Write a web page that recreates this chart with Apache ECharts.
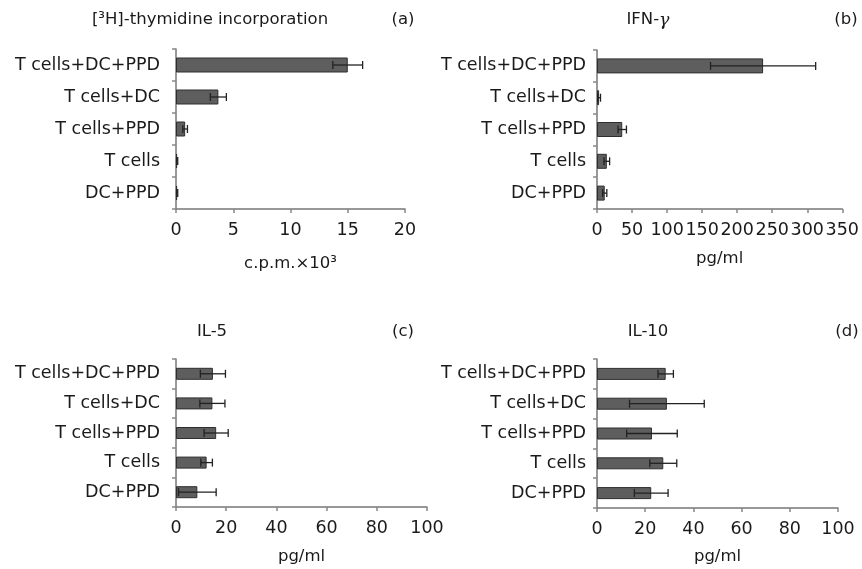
<!DOCTYPE html>
<html>
<head>
<meta charset="utf-8">
<script src="https://cdn.jsdelivr.net/npm/echarts@6/dist/echarts.min.js"></script>
<style>html,body{margin:0;padding:0;background:#fff}#c{width:862px;height:569px}</style>
</head>
<body>
<div id="c"></div>
<script>
var categories = ['T cells+DC+PPD', 'T cells+DC', 'T cells+PPD', 'T cells', 'DC+PPD'];

var thymidineValues = [15.0, 3.7, 0.8, 0.1, 0.1];
var thymidineErrors = [1.3, 0.7, 0.2, 0.05, 0.05];
var thymidineTicks = [0, 5, 10, 15, 20];

var ifnValues = [237, 3, 36, 14, 11];
var ifnErrors = [75, 2, 6, 4, 3];
var ifnTicks = [0, 50, 100, 150, 200, 250, 300, 350];

var il5Values = [14.7, 14.5, 16, 12.2, 8.5];
var il5Errors = [5, 5, 4.8, 2.3, 7.5];
var il5Ticks = [0, 20, 40, 60, 80, 100];

var il10Values = [28.5, 29, 22.8, 27.5, 22.5];
var il10Errors = [3.2, 15.5, 10.5, 5.6, 7];
var il10Ticks = [0, 20, 40, 60, 80, 100];

var FONT = 'DejaVu Sans';
var TXT = '#1a1a1a';

var panels = [
  {vals: thymidineValues, errs: thymidineErrors, ticks: thymidineTicks, interval: 5, name: 'c.p.m.\u00d710\u00b3',
   grid: {left: 176, top: 49, width: 229, height: 160}, barW: 15, catMargin: 16, nameGap: 46},
  {vals: ifnValues, errs: ifnErrors, ticks: ifnTicks, interval: 50, name: 'pg/ml',
   grid: {left: 597, top: 50, width: 247, height: 159}, barW: 15, catMargin: 11, nameGap: 41},
  {vals: il5Values, errs: il5Errors, ticks: il5Ticks, interval: 20, name: 'pg/ml',
   grid: {left: 176, top: 359, width: 251, height: 148}, barW: 12, catMargin: 16, nameGap: 41},
  {vals: il10Values, errs: il10Errors, ticks: il10Ticks, interval: 20, name: 'pg/ml',
   grid: {left: 597, top: 359, width: 241, height: 149}, barW: 12, catMargin: 11, nameGap: 40}
];

var grids = [], xAxes = [], yAxes = [], series = [];
panels.forEach(function (p, i) {
  grids.push(p.grid);
  xAxes.push({
    type: 'value', gridIndex: i,
    min: p.ticks[0], max: p.ticks[p.ticks.length - 1], interval: p.interval,
    name: p.name, nameLocation: 'middle', nameGap: p.nameGap,
    nameTextStyle: {fontFamily: FONT, fontSize: 16.5, color: TXT},
    axisLine: {show: true, lineStyle: {color: '#777', width: 1.5}},
    axisTick: {show: true, length: 4, inside: false, lineStyle: {color: '#888', width: 1.5}},
    axisLabel: {fontFamily: FONT, fontSize: 17.5, color: TXT, margin: 12},
    splitLine: {show: false}
  });
  yAxes.push({
    type: 'category', gridIndex: i, data: categories, inverse: true,
    axisLine: {show: true, lineStyle: {color: '#777', width: 1.5}},
    axisTick: {show: true, length: 4, lineStyle: {color: '#888', width: 1.5}},
    axisLabel: {fontFamily: FONT, fontSize: 17.5, color: TXT, margin: p.catMargin},
    splitLine: {show: false}
  });
  series.push({
    type: 'bar', xAxisIndex: i, yAxisIndex: i, data: p.vals, barWidth: p.barW,
    itemStyle: {color: '#5e5e5e', borderColor: '#2e2e2e', borderWidth: 1},
    silent: true
  });
  var errData = p.vals.map(function (v, k) { return [k, v - p.errs[k], v + p.errs[k]]; });
  series.push({
    type: 'custom', xAxisIndex: i, yAxisIndex: i, data: errData, silent: true, z: 5,
    encode: {y: 0, x: [1, 2]},
    renderItem: function (params, api) {
      var cat = api.value(0);
      var lo = api.coord([Math.max(api.value(1), 0), cat]);
      var hi = api.coord([api.value(2), cat]);
      var h = 4;
      return {
        type: 'group',
        children: [
          {type: 'line', shape: {x1: lo[0], y1: lo[1], x2: hi[0], y2: hi[1]}, style: {stroke: '#222', lineWidth: 1.3}},
          {type: 'line', shape: {x1: lo[0], y1: lo[1] - h, x2: lo[0], y2: lo[1] + h}, style: {stroke: '#222', lineWidth: 1.3}},
          {type: 'line', shape: {x1: hi[0], y1: hi[1] - h, x2: hi[0], y2: hi[1] + h}, style: {stroke: '#222', lineWidth: 1.3}}
        ]
      };
    }
  });
});

var tStyle = {fontFamily: FONT, fontSize: 16.5, fontWeight: 'normal', color: TXT,
  rich: {g: {fontFamily: 'DejaVu Serif', fontStyle: 'italic', fontSize: 17.5, color: TXT}}};
function T(text, x, y) {
  return {text: text, left: x, top: y, textAlign: 'center', padding: 0, textStyle: tStyle};
}

var option = {
  animation: false,
  backgroundColor: '#fff',
  title: [
    T('[\u00b3H]-thymidine incorporation', 210, 11),
    T('(a)', 403, 11),
    T('IFN-{g|\u03b3}', 648, 11),
    T('(b)', 846, 11),
    T('IL-5', 212, 323),
    T('(c)', 403, 323),
    T('IL-10', 648, 323),
    T('(d)', 847, 323)
  ],
  grid: grids,
  xAxis: xAxes,
  yAxis: yAxes,
  series: series
};

var chart = echarts.init(document.getElementById('c'), null, {renderer: 'canvas'});
chart.setOption(option);
</script>
</body>
</html>
